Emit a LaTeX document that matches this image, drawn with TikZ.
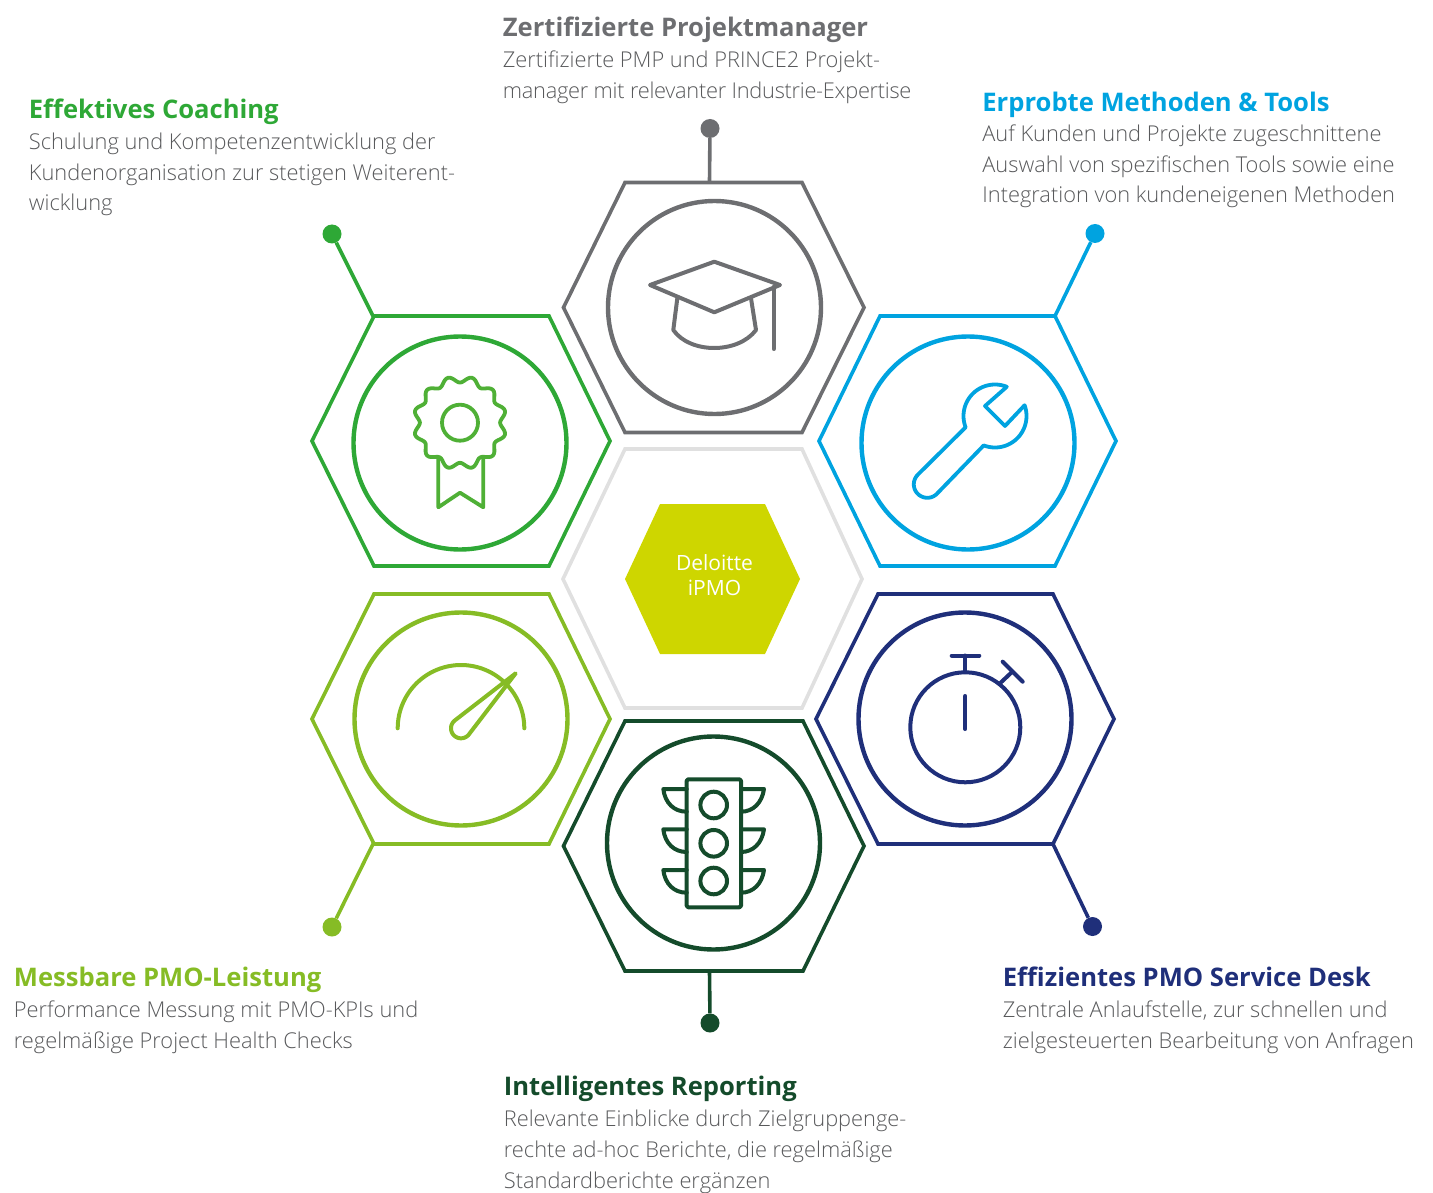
\documentclass[tikz,border=0pt]{standalone}
\usepackage{fontspec}
\setmainfont{Open Sans}
\newfontfamily\lightfont{Open Sans Light}
\definecolor{cgrey}{HTML}{6D6E71}
\definecolor{cgreen}{HTML}{2EA836}
\definecolor{cicon}{HTML}{4FB036}
\definecolor{cblue}{HTML}{00A3E0}
\definecolor{cnavy}{HTML}{1F2F7A}
\definecolor{cdark}{HTML}{144B2B}
\definecolor{clime}{HTML}{86BC25}
\definecolor{ccore}{HTML}{CED600}
\definecolor{cring}{HTML}{E0E0E0}
\definecolor{cbody}{HTML}{58595B}
\tikzset{
  x=1pt,y=-1pt,
  hexline/.style={line width=3.6pt,line join=miter},
  ringline/.style={line width=4.4pt},
  iconline/.style={line width=4pt,line cap=round,line join=round},
  endpoint/.style={circle,inner sep=0pt,minimum size=19pt},
  leader/.style={line width=3.6pt},
  headtext/.style={anchor=north west,inner sep=0pt,align=left,font=\fontsize{25.6}{30}\selectfont\bfseries},
  bodytext/.style={anchor=north west,inner sep=0pt,align=left,text=cbody,font=\lightfont\fontsize{21.8}{30.7}\selectfont},
}
\newcommand{\topset}{\rule{0pt}{20pt}}
\begin{document}
\begin{tikzpicture}
\useasboundingbox (0,0) rectangle (1433,1193);

% centre
\draw[cring,hexline] (563,579)--(625,449)--(802,449)--(862,579)--(802,708)--(625,708)--cycle;
\fill[ccore] (625,579)--(660,504)--(765,504)--(800,579)--(765,654)--(660,654)--cycle;
\node[text=white,align=center,inner sep=0pt,font=\fontsize{21}{25}\selectfont] (core) at (714.5,575.5) {Deloitte\\iPMO};

% hexagons
\draw[cgrey,hexline] (563.5,307.5)--(625,182.5)--(802,182.5)--(864,307.5)--(802,432.5)--(625,432.5)--cycle;
\draw[cgreen,hexline] (312,441)--(374,316)--(549,316)--(610,441)--(549,566)--(374,566)--cycle;
\draw[cblue,hexline] (819,441)--(880,316)--(1055,316)--(1116,441)--(1055,566)--(880,566)--cycle;
\draw[clime,hexline] (312,719)--(374,594)--(549,594)--(610,719)--(549,844)--(374,844)--cycle;
\draw[cnavy,hexline] (816,719)--(878,594)--(1053,594)--(1114,719)--(1053,844)--(878,844)--cycle;
\draw[cdark,hexline] (563.5,846)--(625,721)--(803,721)--(864,846)--(803,971)--(625,971)--cycle;

% rings
\draw[cgrey,ringline] (714.5,307.5) circle[radius=106.5];
\draw[cgreen,ringline] (460,443) circle[radius=106.5];
\draw[cblue,ringline] (968,443) circle[radius=106.5];
\draw[clime,ringline] (461,719) circle[radius=106.5];
\draw[cnavy,ringline] (965,719) circle[radius=106.5];
\draw[cdark,ringline] (713.5,843) circle[radius=106.5];

% connectors
\node[endpoint,fill=cgrey] (dgrey) at (710,128.5) {};
\node[endpoint,fill=cgreen] (dgreen) at (332,234) {};
\node[endpoint,fill=cblue] (dblue) at (1095,233.5) {};
\node[endpoint,fill=clime] (dlime) at (332,927) {};
\node[endpoint,fill=cnavy] (dnavy) at (1092.5,926.5) {};
\node[endpoint,fill=cdark] (ddark) at (710,1023) {};
\coordinate (agrey) at (709.5,182);
\coordinate (agreen) at (373,316);
\coordinate (ablue) at (1055,316);
\coordinate (alime) at (373,844);
\coordinate (anavy) at (1053,844);
\coordinate (adark) at (709.5,971);
\draw[cgrey,leader] (dgrey)--(agrey);
\draw[cgreen,leader] (dgreen)--(agreen);
\draw[cblue,leader] (dblue)--(ablue);
\draw[clime,leader] (dlime)--(alime);
\draw[cnavy,leader] (dnavy)--(anavy);
\draw[cdark,leader] (ddark)--(adark);

% cap icon
\draw[cgrey,iconline] (650,285)--(714.3,261.7)--(780,285)--(714.3,312.3)--cycle;
\draw[cgrey,iconline] (677.3,298.3)--(673.3,330) .. controls (690,354) and (738,354) .. (756,330)--(751,298.3);
\draw[cgrey,iconline] (773.7,286.7)--(773.7,349);

% rosette icon
\draw[cicon,line width=3.8pt,line join=round] plot[domain=0:360,samples=145,smooth] ({460+(43.3+3.2*cos(12*(\x-15)))*cos(\x)},{422.7+(43.3+3.2*cos(12*(\x-15)))*sin(\x)}) -- cycle;
\draw[cicon,line width=3.8pt] (460,422.7) circle[radius=18];
\draw[cicon,iconline,line width=3.8pt] (438.3,458.3)--(438.3,507.3)--(460,492.7)--(483.3,507.3)--(483.3,458.3);

% wrench icon
\draw[cblue,iconline,line width=3.8pt]
  plot[domain=-68:-201,samples=40] ({995+31.5*cos(\x)},{416+31.5*sin(\x)})
  -- plot[domain=-135:-315,samples=30] ({927.3+13.5*cos(\x)},{484.3+13.5*sin(\x)})
  -- plot[domain=111:-20,samples=40] ({995+31.5*cos(\x)},{416+31.5*sin(\x)})
  -- (1005,426)--(985,406)--cycle;

% stopwatch icon
\draw[cnavy,iconline] (965.3,727.3) circle[radius=55];
\draw[cnavy,iconline] (965.3,655.5)--(965.3,672);
\draw[cnavy,iconline] (951.7,655.5)--(979.3,655.5);
\draw[cnavy,iconline] (1000,683.3)--(1012.3,671.7);
\draw[cnavy,iconline] (1002.7,661.7)--(1022.7,681.7);
\draw[cnavy,iconline] (965.3,696)--(965.3,729);

% traffic light icon
\draw[cdark,iconline,rounded corners=1.5pt] (686.7,779.3) rectangle (741,907.3);
\foreach \cy in {805,843.3,881}{\draw[cdark,line width=4pt] (713.7,\cy) circle[radius=13.3];}
\foreach \ty in {789,829.3,870}{
  \draw[cdark,iconline] (686.7,\ty)--(663.3,\ty) .. controls (665,{\ty+14}) and (674,{\ty+22.7}) .. (686.7,{\ty+22.7});
  \draw[cdark,iconline] (741,\ty)--(764,\ty) .. controls (762,{\ty+14}) and (753,{\ty+22.7}) .. (741,{\ty+22.7});
}

% gauge icon
\draw[clime,iconline] plot[domain=180:360,samples=60] ({461+63.3*cos(\x)},{728.3+63.3*sin(\x)});
\draw[clime,iconline] (515.7,673.3)
  -- plot[domain=-126:-318,samples=30] ({461+10*cos(\x)},{728.3+10*sin(\x)}) -- cycle;

% texts
\node[headtext,text=cgrey] (h1) at (502.7,16) {\topset Zertifizierte Projektmanager};
\node[bodytext] (b1) at (502.7,47.4) {\topset Zertifizierte PMP und PRINCE2 Projekt-\\{\addfontfeature{LetterSpace=-1.25}manager mit relevanter Industrie-Expertise}};
\node[headtext,text=cgreen] (h2) at (28.7,98) {\topset Effektives Coaching};
\node[bodytext] (b2) at (28.7,129.4) {\topset Schulung und Kompetenzentwicklung der\\Kundenorganisation zur stetigen Weiterent-\\wicklung};
\node[headtext,text=cblue] (h3) at (982.2,91) {\topset Erprobte Methoden \& Tools};
\node[bodytext] (b3) at (982.2,121.4) {\topset Auf Kunden und Projekte zugeschnittene\\Auswahl von spezifischen Tools sowie eine\\Integration von kundeneigenen Methoden};
\node[headtext,text=clime] (h4) at (13.7,966) {\topset Messbare PMO-Leistung};
\node[bodytext] (b4) at (13.7,997.4) {\topset Performance Messung mit PMO-KPIs und\\regelmäßige Project Health Checks};
\node[headtext,text=cnavy] (h5) at (1002.7,966) {\topset Effizientes PMO Service Desk};
\node[bodytext] (b5) at (1002.7,997.4) {\topset Zentrale Anlaufstelle, zur schnellen und\\zielgesteuerten Bearbeitung von Anfragen};
\node[headtext,text=cdark] (h6) at (503.7,1075) {\topset Intelligentes Reporting};
\node[bodytext] (b6) at (503.7,1106.4) {\topset Relevante Einblicke durch Zielgruppenge-\\rechte ad-hoc Berichte, die regelmäßige\\Standardberichte ergänzen};
\end{tikzpicture}
\end{document}
